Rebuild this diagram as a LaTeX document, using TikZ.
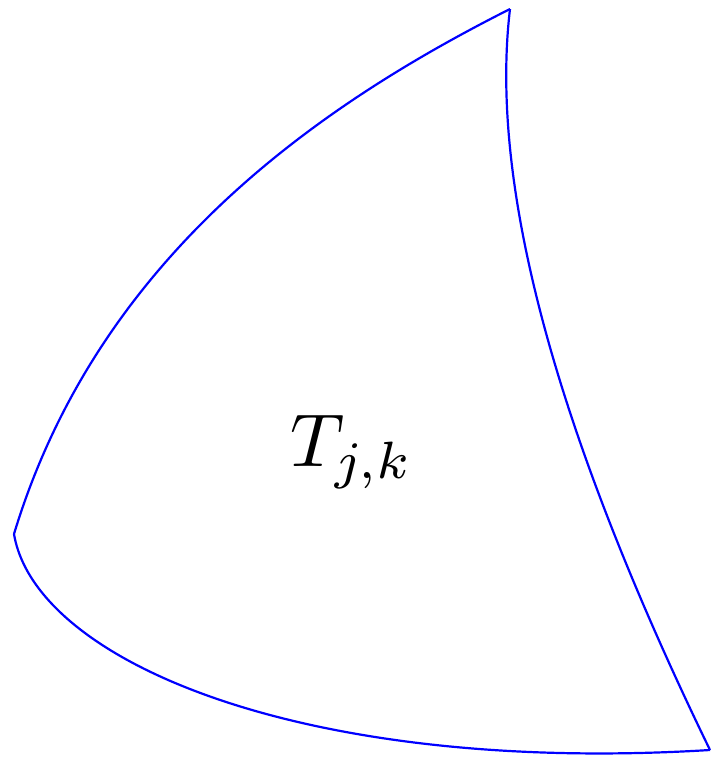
\documentclass[tikz,border=0pt]{standalone}
\begin{document}
\begin{tikzpicture}[x=1pt,y=-1pt,edge/.style={draw=blue,line width=2.2pt}]
\useasboundingbox (0,0) rectangle (711,758);
\coordinate (A) at (510,9);
\coordinate (B) at (14,534);
\coordinate (C) at (710,750);
\draw[edge] (A) .. controls (330,100) and (100,250) .. (B);
\draw[edge] (A) .. controls (492,160) and (535,390) .. (C);
\draw[edge] (B) .. controls (35,660) and (300,775) .. (C);
\node[scale=7.5,inner sep=0pt] (lab) at (352,452) {$T_{j,k}$};
\end{tikzpicture}
\end{document}
